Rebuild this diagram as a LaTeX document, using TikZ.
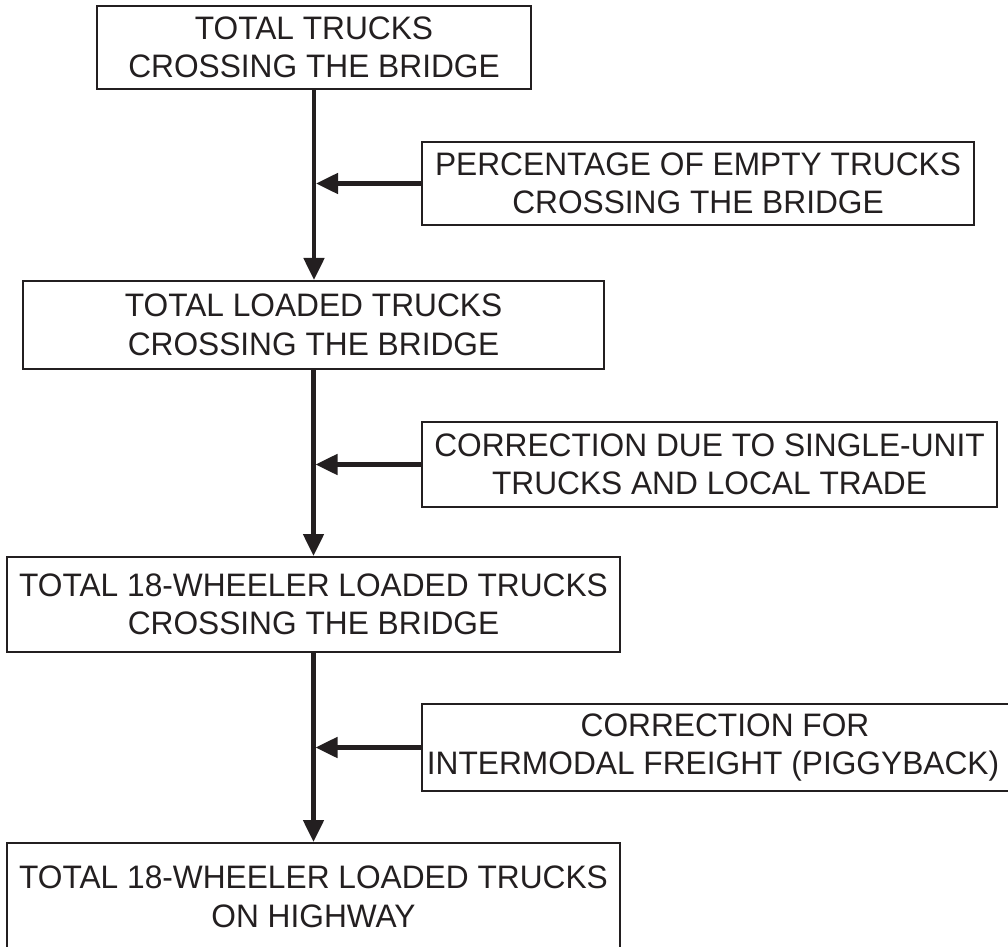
\documentclass[tikz,border=0pt]{standalone}
\usepackage{fontspec}
\setmainfont{Liberation Sans}[FakeStretch=0.975]
\usetikzlibrary{arrows.meta}
\definecolor{ink}{HTML}{231F20}
\begin{document}
\begin{tikzpicture}[x=0.5pt,y=-0.5pt,
  box/.style={draw=ink, line width=1pt, inner sep=0pt, align=center, text=ink,
    font=\fontsize{16.25}{19.2}\selectfont},
  flow/.style={draw=ink, line width=2.4pt, -{Triangle[length=11pt,width=10pt]}},
]
\useasboundingbox (0,0) rectangle (1008,947);

% main chain of totals
\node[box, minimum width=217pt, minimum height=41.5pt] (total) at (314,47.5)
  {TOTAL TRUCKS\\CROSSING THE BRIDGE};
\node[box, minimum width=290.5pt, minimum height=44pt] (loaded) at (313.5,325)
  {TOTAL LOADED TRUCKS\\CROSSING THE BRIDGE};
\node[box, minimum width=306.5pt, minimum height=47.5pt] (wheeler) at (313.5,604.5)
  {TOTAL 18-WHEELER LOADED TRUCKS\\CROSSING THE BRIDGE};
\node[box, minimum width=306.5pt, minimum height=54pt] (highway) at (313.5,897)
  {TOTAL 18-WHEELER LOADED TRUCKS\\ON HIGHWAY};

% correction factors
\node[box, minimum width=276pt, minimum height=41.5pt] (empty) at (698,183.5)
  {PERCENTAGE OF EMPTY TRUCKS\\CROSSING THE BRIDGE};
\node[box, minimum width=287.5pt, minimum height=42.5pt] (single) at (709.5,464.5)
  {CORRECTION DUE TO SINGLE-UNIT\\TRUCKS AND LOCAL TRADE};
\node[box, minimum width=309pt, minimum height=43.5pt] (piggy) at (731,747.5)
  {CORRECTION FOR\hspace*{6pt}\\INTERMODAL FREIGHT (PIGGYBACK)\hspace*{18pt}};

% vertical flow
\draw[flow] (total.south) -- (total.south |- loaded.north);
\draw[flow] (loaded.south) -- (loaded.south |- wheeler.north);
\draw[flow] (wheeler.south) -- (wheeler.south |- highway.north);

% corrections feeding into the flow
\draw[flow, shorten >=1pt] (empty.west) -- (empty.west -| total.south);
\draw[flow, shorten >=1pt] (single.west) -- (single.west -| loaded.south);
\draw[flow, shorten >=1pt] (piggy.west) -- (piggy.west -| wheeler.south);
\end{tikzpicture}
\end{document}
